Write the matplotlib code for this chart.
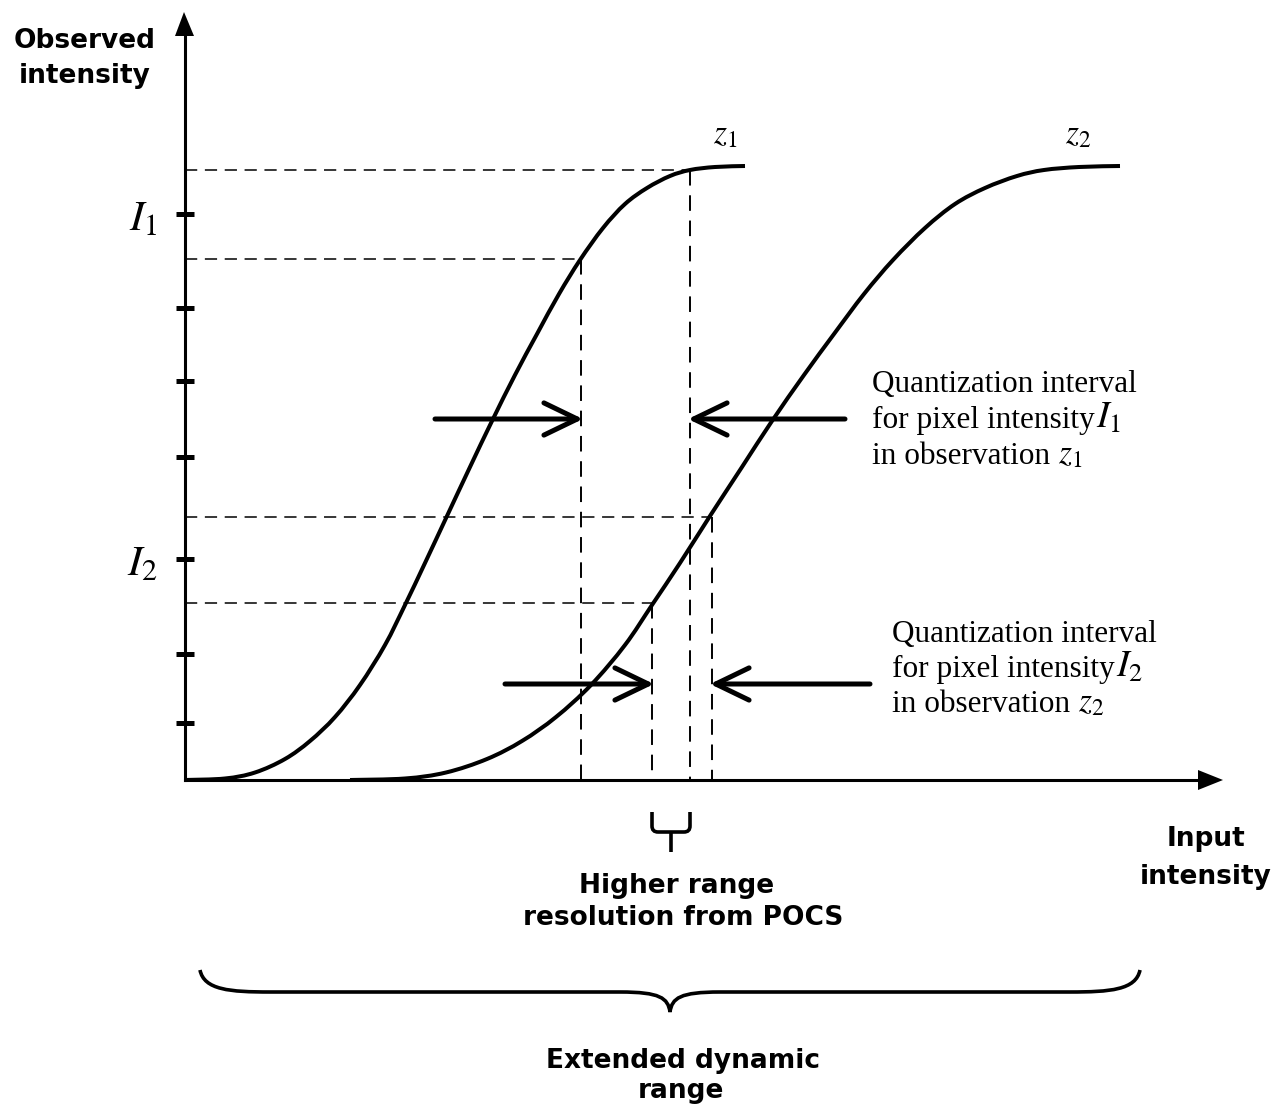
import matplotlib
matplotlib.use("Agg")
import matplotlib.pyplot as plt
from matplotlib.path import Path
from matplotlib.patches import PathPatch

plt.rcParams['mathtext.fontset'] = 'stix'

# ---------------- data (units: input / observed intensity) ----------------
z1_x = [0, 40, 70, 100, 125, 150, 175, 200, 220, 240, 262, 285, 307, 330,
        352, 374, 395, 418, 440, 462, 485, 505, 530, 560]
z1_y = [0, 1.5, 7.5, 21, 39, 63, 95, 135, 175, 217, 264, 313, 359, 405,
        446, 486, 520, 552, 576, 592, 604, 610, 613, 614]

z2_x = [165, 220, 261, 302, 337, 371, 406, 440, 467, 495, 525, 557, 587,
        619, 649, 679, 708, 740, 770, 800, 832, 859, 894, 935]
z2_y = [0, 1.5, 7.5, 21, 39, 63, 95, 135, 175, 217, 264, 313, 359, 405,
        446, 486, 520, 552, 576, 592, 604, 610, 613, 614]

tick_levels = [566, 472, 399, 323, 221, 126, 57]
tick_labels = [r'$I_1$', '', '', '', r'$I_2$', '', '']

# quantization bin edges (observed) and their inputs on the curves
i1_levels = [521, 610]          # bin of I1, mapped through z1
i1_inputs = [396, 505]
i2_levels = [177, 263]          # bin of I2, mapped through z2
i2_inputs = [467, 527]

arrow_rows = [361, 96]
arrow_tails_left = [250, 320]
arrow_tails_right = [660, 685]

# ---------------- figure ----------------
fig = plt.figure(figsize=(12.77, 11.06), dpi=100)
ax = fig.add_axes([0, 0, 1, 1])
ax.set_xlim(-185, 1092)
ax.set_ylim(-326, 780)

for s in ['top', 'right']:
    ax.spines[s].set_visible(False)
ax.spines['left'].set_position(('data', 0))
ax.spines['bottom'].set_position(('data', 0))
ax.spines['left'].set_bounds(0, 748)
ax.spines['bottom'].set_bounds(0, 1018)
ax.spines['left'].set_linewidth(2.2)
ax.spines['bottom'].set_linewidth(2.2)
ax.yaxis.set_ticks_position('left')
ax.set_xticks([])
ax.set_yticks(tick_levels)
ax.set_yticklabels(tick_labels)
ax.tick_params(axis='y', direction='inout', length=13, width=3.6,
               labelsize=31, pad=13)

# axis arrowheads
ax.fill([-10, 9, -1], [744, 744, 768], color='k', lw=0)
ax.fill([1013, 1013, 1038], [-10, 10, 0], color='k', lw=0)


def smooth_path(xs, ys):
    """Smooth rendering (Catmull-Rom as cubic Bezier) through the given points."""
    pts = list(zip(xs, ys))
    verts = [pts[0]]
    codes = [Path.MOVETO]
    n = len(pts)
    for i in range(n - 1):
        p0 = pts[i - 1] if i > 0 else pts[i]
        p1 = pts[i]
        p2 = pts[i + 1]
        p3 = pts[i + 2] if i + 2 < n else pts[i + 1]
        c1 = (p1[0] + (p2[0] - p0[0]) / 6, p1[1] + (p2[1] - p0[1]) / 6)
        c2 = (p2[0] - (p3[0] - p1[0]) / 6, p2[1] - (p3[1] - p1[1]) / 6)
        verts += [c1, c2, p2]
        codes += [Path.CURVE4] * 3
    return Path(verts, codes)


# curves
for xs, ys in [(z1_x, z1_y), (z2_x, z2_y)]:
    ax.add_patch(PathPatch(smooth_path(xs, ys), fill=False, lw=2.9,
                           color='k', capstyle='butt'))

# dashed guides
dash = (0, (8, 5))
for lev, xin in list(zip(i1_levels, i1_inputs)) + list(zip(i2_levels, i2_inputs)):
    ax.plot([0, xin], [lev, lev], color='k', lw=1.1, ls=dash)
    ax.plot([xin, xin], [lev, 0], color='k', lw=1.4, ls=dash)

# arrows
aprops = dict(arrowstyle='->,head_length=1.2,head_width=0.58', lw=3.6,
              color='k', shrinkA=0, shrinkB=0, mutation_scale=20)
intervals = [i1_inputs, sorted(i2_inputs)]
for row, tl, tr, (lo, hi) in zip(arrow_rows, arrow_tails_left,
                                 arrow_tails_right, intervals):
    ax.annotate('', xy=(lo + 2, row), xytext=(tl, row), arrowprops=aprops)
    ax.annotate('', xy=(hi - 2, row), xytext=(tr, row), arrowprops=aprops)

# curve labels
ax.text(528, 637, r'$z_1$', fontsize=24, ha='left', va='baseline')
ax.text(880, 637, r'$z_2$', fontsize=24, ha='left', va='baseline')

# annotation text blocks
serif = 'Liberation Serif'


def block(x, y0, dy, idx):
    ax.text(x, y0, 'Quantization interval', fontsize=22.5, family=serif,
            va='baseline')
    t = ax.text(x, y0 - dy, 'for pixel intensity', fontsize=22.5,
                family=serif, va='baseline')
    ax.annotate(r'$I_%d$' % idx, xy=(1.0, y0 - dy), xycoords=(t, 'data'),
                xytext=(1, 0), textcoords='offset points', fontsize=27,
                va='baseline', ha='left')
    t3 = ax.text(x, y0 - 2 * dy, 'in observation', fontsize=22.5,
                 family=serif, va='baseline')
    ax.annotate(r'$z_%d$' % idx, xy=(1.0, y0 - 2 * dy), xycoords=(t3, 'data'),
                xytext=(6, 0), textcoords='offset points', fontsize=24,
                va='baseline', ha='left')


block(687, 388, 36, 1)
block(707, 138, 35, 2)

# bold axis labels
bold = dict(family='DejaVu Sans', weight='bold', fontsize=19, va='baseline')
ax.text(-100, 732, 'Observed', ha='center', **bold)
ax.text(-100, 697, 'intensity', ha='center', **bold)
ax.text(1021, -66, 'Input', ha='center', **bold)
ax.text(1087, -104, 'intensity', ha='right', **bold)
ax.text(492, -113, 'Higher range', ha='center', **bold)
ax.text(498, -145, 'resolution from POCS', ha='center', **bold)
ax.text(498, -288, 'Extended dynamic', ha='center', **bold)
ax.text(496, -318, 'range', ha='center', **bold)

# small brace: overlap of the two quantization intervals
lo = max(i1_inputs[0], min(i2_inputs))
hi = min(i1_inputs[1], max(i2_inputs))
mid = (lo + hi) / 2
verts = [(lo, -32), (lo, -46), (lo, -52), (lo + 6, -52), (hi - 6, -52),
         (hi, -52), (hi, -46), (hi, -32)]
codes = [Path.MOVETO, Path.LINETO, Path.CURVE3, Path.CURVE3, Path.LINETO,
         Path.CURVE3, Path.CURVE3, Path.LINETO]
ax.add_patch(PathPatch(Path(verts, codes), fill=False, lw=2.6, color='k'))
ax.plot([mid, mid], [-52, -72], color='k', lw=2.6, solid_capstyle='butt')

# big brace: full extended dynamic range
L, R, ytip, ybar, ycusp = 15, 955, -190, -212, -232
C = (L + R) / 2
verts = [(L, ytip), (L + 4, ybar + 2), (L + 30, ybar), (L + 70, ybar),
         (C - 50, ybar), (C - 10, ybar), (C - 2, ybar - 6), (C, ycusp),
         (C + 2, ybar - 6), (C + 10, ybar), (C + 50, ybar),
         (R - 70, ybar), (R - 30, ybar), (R - 4, ybar + 2), (R, ytip)]
codes = [Path.MOVETO, Path.CURVE4, Path.CURVE4, Path.CURVE4,
         Path.LINETO, Path.CURVE4, Path.CURVE4, Path.CURVE4,
         Path.CURVE4, Path.CURVE4, Path.CURVE4,
         Path.LINETO, Path.CURVE4, Path.CURVE4, Path.CURVE4]
ax.add_patch(PathPatch(Path(verts, codes), fill=False, lw=2.6, color='k'))

fig.savefig('out.png', dpi=100)
